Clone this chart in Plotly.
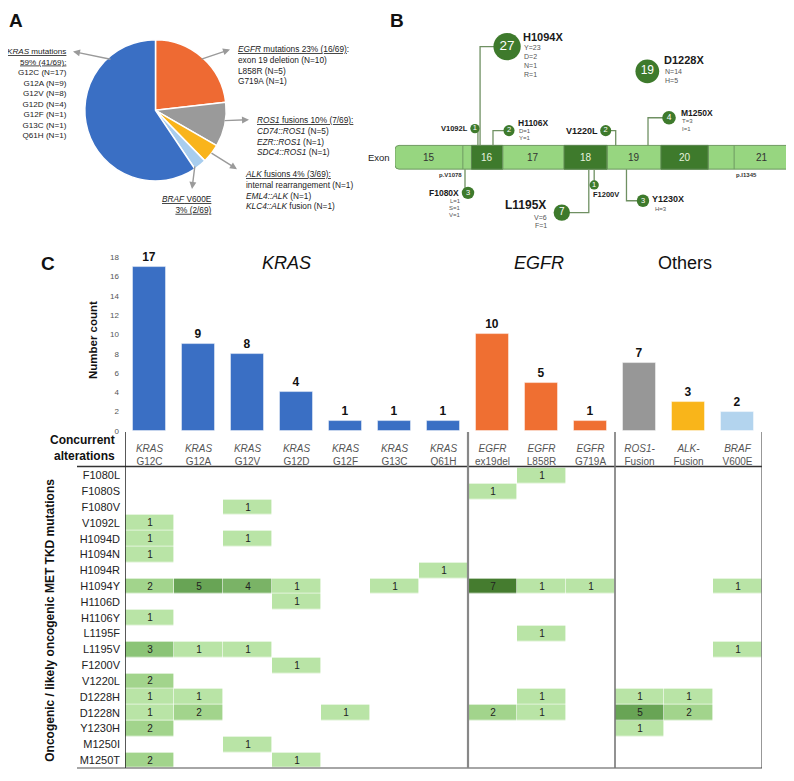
import plotly.graph_objects as go

# page body has an 8px default margin: the figure area starts at (8, 8) of the window
OX, OY = 8, 8
FW, FH = 786, 765
FONT = "Arial, 'Liberation Sans', sans-serif"

# ---------------- DATA ----------------
# Panel A: pie
pie_groups = ["EGFR", "ROS1", "ALK", "BRAF", "KRAS"]
pie_counts = [16, 7, 3, 2, 41]

kras_lines = ["<u><i>KRAS</i> mutations</u>", "<u>59% (41/69):</u>", "G12C (N=17)", "G12A (N=9)",
              "G12V (N=8)", "G12D (N=4)", "G12F (N=1)", "G13C (N=1)", "Q61H (N=1)"]
egfr_lines = ["<u><i>EGFR</i> mutations 23% (16/69)</u>:", "exon 19 deletion (N=10)", "L858R (N=5)", "G719A (N=1)"]
ros1_lines = ["<u><i>ROS1</i> fusions 10% (7/69):</u>", "<i>CD74::ROS1</i> (N=5)", "<i>EZR::ROS1</i> (N=1)",
              "<i>SDC4::ROS1</i> (N=1)"]
alk_lines = ["<u><i>ALK</i> fusions 4% (3/69):</u>", "internal rearrangement (N=1)", "<i>EML4::ALK</i> (N=1)",
             "<i>KLC4::ALK</i> fusion (N=1)"]
braf_lines = ["<u><i>BRAF</i> V600E</u>", "<u>3% (2/69)</u>"]

# Panel B: MET TKD lollipops
met_mut = ["F1080X", "V1092L", "H1094X", "H1106X", "L1195X", "F1200V", "V1220L", "D1228X", "Y1230X", "M1250X"]
met_codon = [1080, 1092, 1094, 1106, 1195, 1200, 1220, 1228, 1230, 1250]
met_count = [3, 1, 27, 2, 7, 1, 2, 19, 3, 4]
met_sub = [["L=1", "S=1", "V=1"], [], ["Y=23", "D=2", "N=1", "R=1"], ["D=1", "Y=1"], ["V=6", "F=1"],
           [], [], ["N=14", "H=5"], ["H=3"], ["T=3", "I=1"]]
exon_names = ["15", "", "16", "17", "18", "19", "20", "", "21"]
exon_bounds = [1015, 1078, 1086, 1115, 1172, 1212, 1262, 1306, 1330, 1382]
exon_dark = [False, False, True, False, True, False, True, False, False]

# Panel C: bars
bar_genes = ["KRAS"] * 7 + ["EGFR"] * 3 + ["ROS1-", "ALK-", "BRAF"]
bar_variants = ["G12C", "G12A", "G12V", "G12D", "G12F", "G13C", "Q61H",
                "ex19del", "L858R", "G719A", "Fusion", "Fusion", "V600E"]
bar_counts = [17, 9, 8, 4, 1, 1, 1, 10, 5, 1, 7, 3, 2]
group_names = ["<i>KRAS</i>", "<i>EGFR</i>", "Others"]

# Panel C: co-occurrence heatmap
met_rows = ["F1080L", "F1080S", "F1080V", "V1092L", "H1094D", "H1094N", "H1094R", "H1094Y",
            "H1106D", "H1106Y", "L1195F", "L1195V", "F1200V", "V1220L", "D1228H", "D1228N",
            "Y1230H", "M1250I", "M1250T"]
co_counts = [
    [0, 0, 0, 0, 0, 0, 0, 0, 1, 0, 0, 0, 0],
    [0, 0, 0, 0, 0, 0, 0, 1, 0, 0, 0, 0, 0],
    [0, 0, 1, 0, 0, 0, 0, 0, 0, 0, 0, 0, 0],
    [1, 0, 0, 0, 0, 0, 0, 0, 0, 0, 0, 0, 0],
    [1, 0, 1, 0, 0, 0, 0, 0, 0, 0, 0, 0, 0],
    [1, 0, 0, 0, 0, 0, 0, 0, 0, 0, 0, 0, 0],
    [0, 0, 0, 0, 0, 0, 1, 0, 0, 0, 0, 0, 0],
    [2, 5, 4, 1, 0, 1, 0, 7, 1, 1, 0, 0, 1],
    [0, 0, 0, 1, 0, 0, 0, 0, 0, 0, 0, 0, 0],
    [1, 0, 0, 0, 0, 0, 0, 0, 0, 0, 0, 0, 0],
    [0, 0, 0, 0, 0, 0, 0, 0, 1, 0, 0, 0, 0],
    [3, 1, 1, 0, 0, 0, 0, 0, 0, 0, 0, 0, 1],
    [0, 0, 0, 1, 0, 0, 0, 0, 0, 0, 0, 0, 0],
    [2, 0, 0, 0, 0, 0, 0, 0, 0, 0, 0, 0, 0],
    [1, 1, 0, 0, 0, 0, 0, 0, 1, 0, 1, 1, 0],
    [1, 2, 0, 0, 1, 0, 0, 2, 1, 0, 5, 2, 0],
    [2, 0, 0, 0, 0, 0, 0, 0, 0, 0, 1, 0, 0],
    [0, 0, 1, 0, 0, 0, 0, 0, 0, 0, 0, 0, 0],
    [2, 0, 0, 1, 0, 0, 0, 0, 0, 0, 0, 0, 0],
]

# ---------------- STYLE / LAYOUT ----------------
pie_colors = ["#ee6a33", "#9a9a9a", "#f9b41b", "#a8cdee", "#3a6fc4"]
bar_colors = ["#3a6fc4"] * 7 + ["#ef6f32"] * 3 + ["#979797", "#f9b51a", "#b3d4ee"]
dark_green = "#3e7a2c"
light_green = "#97d680"
stem_color = "#6f9062"


def px(xp):
    return (xp - OX) / FW


def py(yp):
    return 1 - (yp - OY) / FH


fig = go.Figure()

# ---- Panel A pie ----
fig.add_trace(go.Pie(labels=pie_groups, values=pie_counts, sort=False, direction="clockwise", rotation=0,
                     marker=dict(colors=pie_colors, line=dict(color="white", width=1.5)),
                     textinfo="none", hoverinfo="skip", showlegend=False,
                     domain=dict(x=[px(84), px(227)], y=[py(179), py(36)])))

annotations = []
shapes = []


def ann(**kw):
    base = dict(showarrow=False, xanchor="center", yanchor="middle",
                font=dict(family=FONT, size=8.3, color="#222"))
    base.update(kw)
    annotations.append(base)


# text blocks
ann(x=px(69), y=py(41), xref="paper", yref="paper", xanchor="right", yanchor="top", align="right",
    text="<br>".join(kras_lines), font=dict(family=FONT, size=8.1, color="#222"))
ann(x=px(236), y=py(38.5), xref="paper", yref="paper", xanchor="left", yanchor="top", align="left",
    text="<br>".join(egfr_lines))
ann(x=px(255), y=py(110.5), xref="paper", yref="paper", xanchor="left", yanchor="top", align="left",
    text="<br>".join(ros1_lines))
ann(x=px(243), y=py(164.5), xref="paper", yref="paper", xanchor="left", yanchor="top", align="left",
    text="<br>".join(alk_lines))
ann(x=px(214), y=py(190.5), xref="paper", yref="paper", xanchor="right", yanchor="top", align="right",
    text="<br>".join(braf_lines))

# arrows (head, tail) in px
for (hx, hy, tx, ty) in [(73, 48, 112, 56), (230, 46, 200, 56), (249, 117, 223, 118),
                         (237, 167, 210, 150), (192, 187, 195, 163)]:
    annotations.append(dict(x=px(hx), y=py(hy), xref="paper", yref="paper", text="", showarrow=True,
                            ax=tx - hx, ay=ty - hy, axref="pixel", ayref="pixel",
                            arrowhead=2, arrowsize=1, arrowwidth=1.4, arrowcolor="#9a9a9a"))

# panel letters
for letter, lx, ly in [("A", 7, 16.5), ("B", 388, 16.5), ("C", 39, 263)]:
    ann(x=px(lx), y=py(ly), xref="paper", yref="paper", xanchor="left", yanchor="middle",
        text="<b>%s</b>" % letter, font=dict(family=FONT, size=19, color="#111"))

# ---- Panel B MET schematic ----
S = 1.0765            # px per codon
C0, P0 = 1080, 465    # codon 1080 sits at px 465
B_L, B_R = 395, 790
xr3 = [C0 - (P0 - B_L) / S, C0 + (B_R - P0) / S]
BAR_TOP, BAR_BOT = 143, 167

# rounded outer bar
x0, x1 = exon_bounds[0], exon_bounds[-1]
rx, ry = 4 / S, 4
path = (f"M {x0+rx},{BAR_TOP} L {x1-rx},{BAR_TOP} Q {x1},{BAR_TOP} {x1},{BAR_TOP+ry} "
        f"L {x1},{BAR_BOT-ry} Q {x1},{BAR_BOT} {x1-rx},{BAR_BOT} L {x0+rx},{BAR_BOT} "
        f"Q {x0},{BAR_BOT} {x0},{BAR_BOT-ry} L {x0},{BAR_TOP+ry} Q {x0},{BAR_TOP} {x0+rx},{BAR_TOP} Z")
shapes.append(dict(type="path", path=path, xref="x3", yref="y3", fillcolor=light_green,
                   line=dict(color="#6f9a62", width=1), layer="below"))
for i, name in enumerate(exon_names):
    a, b = exon_bounds[i], exon_bounds[i + 1]
    if exon_dark[i]:
        shapes.append(dict(type="rect", x0=a, x1=b, y0=BAR_TOP, y1=BAR_BOT, xref="x3", yref="y3",
                           fillcolor=dark_green, line=dict(color="#5c8650", width=1), layer="below"))
    elif i > 0:
        shapes.append(dict(type="line", x0=a, x1=a, y0=BAR_TOP, y1=BAR_BOT, xref="x3", yref="y3",
                           line=dict(color="#6f9a62", width=1), layer="below"))
    if name:
        ann(x=(a + b) / 2, y=155, xref="x3", yref="y3", text=name,
            font=dict(family=FONT, size=10, color="#e6f3de" if exon_dark[i] else "#333"))
ann(x=exon_bounds[0], y=155, xref="x3", yref="y3", xanchor="right", xshift=-3, text="Exon",
    font=dict(family=FONT, size=9.5, color="#222"))
ann(x=exon_bounds[1], y=173, xref="x3", yref="y3", xanchor="right", xshift=1, text="<b>p.V1078</b>",
    font=dict(family=FONT, size=6, color="#333"))
ann(x=exon_bounds[-2], y=173, xref="x3", yref="y3", xanchor="left", xshift=0, text="<b>p.I1345</b>",
    font=dict(family=FONT, size=6, color="#333"))

# lollipop placement (schematic layout, px)
lolli = {
    "F1080X": dict(side="below", dx=3, cy=191, lab=(-7, 191, "right", 8.5), sub=(-13, 199, 7, "center", 6)),
    "V1092L": dict(side="above", dx=-3, cy=126, lab=(-5, 126, "right", 7.5), sub=None),
    "H1094X": dict(side="above", dx=27, cy=43, lab=(14, 33, "left", 11), sub=(15, 44, 9, "left", 7)),
    "H1106X": dict(side="above", dx=16, cy=128, lab=(7, 120, "left", 8.5), sub=(8, 128, 7, "left", 6)),
    "L1195X": dict(side="below", dx=-27, cy=211, lab=(-14, 203, "right", 12), sub=(-13, 216, 8, "right", 7)),
    "F1200V": dict(side="below", dx=0, cy=183, lab=(-3, 193, "left", 7.5), sub=None),
    "V1220L": dict(side="above", dx=-10, cy=128, lab=(-6, 128, "right", 9), sub=None),
    "D1228X": dict(side=None, dx=23, cy=68, lab=(15, 57, "left", 11), sub=(16, 68, 9, "left", 7)),
    "Y1230X": dict(side="below", dx=16.5, cy=199, lab=(7, 197, "left", 9), sub=(10, 207, 7, "left", 6)),
    "M1250X": dict(side="above", dx=21, cy=115, lab=(10, 110, "left", 8.5), sub=(11, 118, 8, "left", 6)),
}

cxs, cys, sizes, fsizes = [], [], [], []
for name, codon, cnt, subs in zip(met_mut, met_codon, met_count, met_sub):
    L = lolli[name]
    cx = codon + L["dx"] / S
    cy = L["cy"]
    cxs.append(cx)
    cys.append(cy)
    sizes.append(5 + 4.3 * cnt ** 0.5)
    fsizes.append(13.5 if cnt > 20 else 12 if cnt > 10 else 10 if cnt > 5 else 8.5 if cnt > 3 else 7.5)
    if L["side"]:
        ybar = BAR_TOP if L["side"] == "above" else BAR_BOT
        shapes.append(dict(type="path", path=f"M {codon},{ybar} L {codon},{cy} L {cx},{cy}",
                           xref="x3", yref="y3", line=dict(color=stem_color, width=1.3), layer="below"))
    ldx, ly, lanc, lsz = L["lab"]
    ann(x=cx, y=ly, xref="x3", yref="y3", xanchor=lanc, xshift=ldx, text="<b>%s</b>" % name,
        font=dict(family=FONT, size=lsz, color="#1a1a1a"))
    if L["sub"]:
        sdx, sy0, sstep, sanc, ssz = L["sub"]
        for k, s in enumerate(subs):
            ann(x=cx, y=sy0 + k * sstep, xref="x3", yref="y3", xanchor=sanc, xshift=sdx, text=s,
                font=dict(family=FONT, size=ssz, color="#555"))

fig.add_trace(go.Scatter(x=cxs, y=cys, mode="markers+text", text=[str(c) for c in met_count],
                         textposition="middle center", opacity=1,
                         textfont=dict(family=FONT, color="white", size=fsizes),
                         marker=dict(size=sizes, color=dark_green, opacity=1, line=dict(width=0)),
                         xaxis="x3", yaxis="y3", showlegend=False, hoverinfo="skip", cliponaxis=False))

# ---- Panel C bars ----
ncol = len(bar_counts)
fig.add_trace(go.Bar(x=list(range(ncol)), y=bar_counts, width=0.67,
                     marker=dict(color=bar_colors, line=dict(color="rgba(255,255,255,0.45)", width=1)),
                     texttemplate="<b>%{y}</b>", textposition="outside",
                     textfont=dict(family=FONT, size=12, color="#111"), cliponaxis=False,
                     xaxis="x", yaxis="y", showlegend=False, hoverinfo="skip"))

for gname, gx in zip(group_names, [2.79, 7.95, 10.93]):
    ann(x=gx, y=py(262), xref="x", yref="paper", text=gname, font=dict(family=FONT, size=18, color="#111"))

ann(x=px(93), y=py(340), xref="paper", yref="paper", textangle=-90, text="<b>Number count</b>",
    font=dict(family=FONT, size=11.5, color="#111"))

# ---- Panel C heatmap ----
z = [[v if v > 0 else None for v in row] for row in co_counts]
txt = [[str(v) if v > 0 else "" for v in row] for row in co_counts]
heat_cs = [[0, "#b9e4a6"], [1 / 6, "#a2d48c"], [2 / 6, "#8bc477"], [3 / 6, "#7ab366"],
           [4 / 6, "#68a455"], [5 / 6, "#568f42"], [1, "#457c2f"]]
fig.add_trace(go.Heatmap(z=z, x=list(range(ncol)), y=met_rows, text=txt, texttemplate="%{text}",
                         textfont=dict(family=FONT, size=10, color="#222"),
                         colorscale=heat_cs, zmin=1, zmax=7, showscale=False, xgap=0.6, ygap=0.6,
                         xaxis="x2", yaxis="y2", hoverinfo="skip"))

col_ticktext = ["<i>%s</i><br>%s" % (g, v) for g, v in zip(bar_genes, bar_variants)]

ann(x=px(117), y=py(449), xref="paper", yref="paper", xanchor="right", align="right",
    text="<b>Concurrent<br>alterations</b>", font=dict(family=FONT, size=12, color="#111"))
ann(x=px(50), y=py(624), xref="paper", yref="paper", textangle=-90,
    text="<b>Oncogenic / likely oncogenic MET TKD mutations</b>", font=dict(family=FONT, size=12, color="#111"))

# grid lines of table
shapes.append(dict(type="line", xref="paper", yref="paper", x0=px(77), x1=px(762), y0=py(468), y1=py(468),
                   line=dict(color="#333", width=1.5)))
shapes.append(dict(type="line", xref="paper", yref="paper", x0=px(77), x1=px(762), y0=py(773), y1=py(773),
                   line=dict(color="#888", width=1.5)))
for xb, col, wd in [(-0.5, "#222", 1.5), (6.5, "#888", 2.2), (9.5, "#777", 1.6), (12.5, "#444", 1.1)]:
    shapes.append(dict(type="line", xref="x2", yref="paper", x0=xb, x1=xb, y0=py(773), y1=py(433),
                       line=dict(color=col, width=wd)))

fig.update_layout(
    width=FW, height=FH, margin=dict(l=0, r=0, t=0, b=0),
    paper_bgcolor="white", plot_bgcolor="white", font=dict(family=FONT),
    showlegend=False, bargap=0,
    xaxis=dict(domain=[px(125), px(762)], range=[-0.5, ncol - 0.5], visible=False, fixedrange=True, anchor="y"),
    yaxis=dict(domain=[py(432), py(256)], range=[0, 18], tickvals=list(range(0, 19, 2)),
               tickfont=dict(family=FONT, size=8, color="#555"), showgrid=False, zeroline=False,
               showline=False, ticks="", ticklabelstandoff=5, anchor="x", fixedrange=True),
    xaxis2=dict(domain=[px(125), px(762)], range=[-0.5, ncol - 0.5], side="top", tickvals=list(range(ncol)),
                ticktext=col_ticktext, tickfont=dict(family=FONT, size=10, color="#555"), showgrid=False,
                zeroline=False, showline=False, ticks="", anchor="y2", fixedrange=True),
    yaxis2=dict(domain=[py(773), py(469)], autorange="reversed", type="category",
                tickfont=dict(family=FONT, size=11, color="#222"), showgrid=False, zeroline=False,
                ticks="", ticklabelstandoff=4, anchor="x2", fixedrange=True),
    xaxis3=dict(domain=[px(B_L), px(B_R)], range=xr3, visible=False, anchor="y3", fixedrange=True),
    yaxis3=dict(domain=[py(235), py(15)], range=[235, 15], visible=False, anchor="x3", fixedrange=True),
    annotations=annotations, shapes=shapes,
)

fig.write_html("out.html")
